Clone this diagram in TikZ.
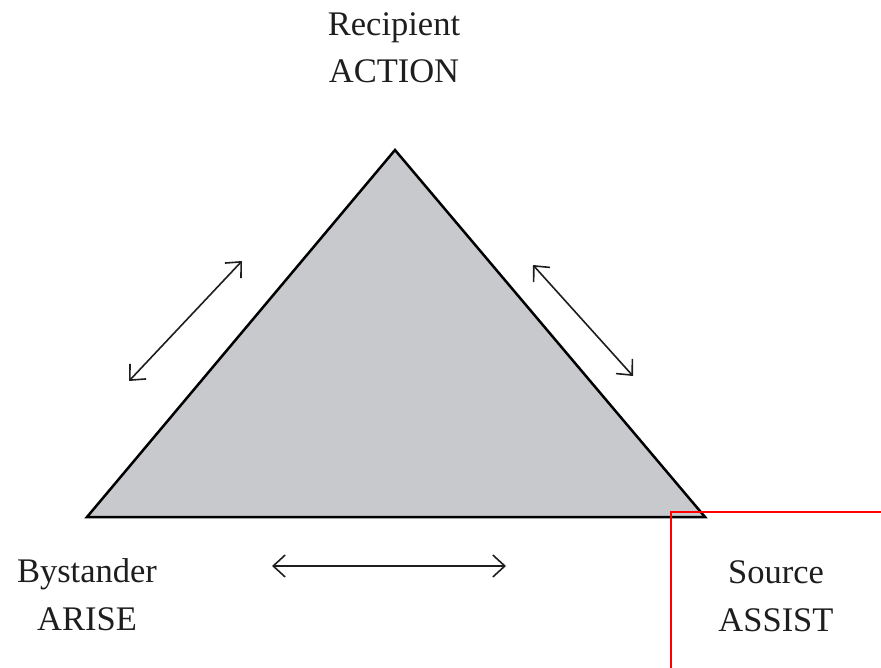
\documentclass[tikz,border=0pt]{standalone}
\usepackage{fontspec}
\setmainfont{Liberation Serif}
\usetikzlibrary{arrows.meta}
\definecolor{trigray}{RGB}{200,201,204}
\definecolor{inkgray}{RGB}{30,30,30}
\begin{document}
\begin{tikzpicture}[x=1pt,y=-1pt,
  lbl/.style={font=\fontsize{34.5}{42}\selectfont, text=inkgray, inner sep=0pt, anchor=base},
  dbl/.style={draw=inkgray, line width=1.6pt, {Straight Barb[length=12pt,width=22pt]}-{Straight Barb[length=12pt,width=22pt]}}]
\useasboundingbox (0,0) rectangle (881,668);
\coordinate (apex) at (395,150);
\coordinate (bl) at (87,517);
\coordinate (br) at (705,517);
\filldraw[fill=trigray, draw=black, line width=2.5pt, line join=miter] (apex) -- (br) -- (bl) -- cycle;
\node[lbl] (rec) at (394,36) {Recipient};
\node[lbl] (act) at (394,83) {ACTION};
\node[lbl] (bys) at (87,582) {Bystander};
\node[lbl] (ari) at (87,630) {ARISE};
\node[lbl] (src) at (776,583) {Source};
\node[lbl] (ass) at (776,631) {ASSIST};
\coordinate (l1) at (242,261); \coordinate (l2) at (129,381);
\coordinate (r1) at (533,265); \coordinate (r2) at (633,376);
\coordinate (b1) at (272,566); \coordinate (b2) at (506,566);
\draw[dbl] (l1) -- (l2);
\draw[dbl] (r1) -- (r2);
\draw[dbl] (b1) -- (b2);
\coordinate (red1) at (881,512); \coordinate (red2) at (671,512); \coordinate (red3) at (671,668);
\draw[red, line width=1.5pt] (red1) -- (red2) -- (red3);
\end{tikzpicture}
\end{document}
